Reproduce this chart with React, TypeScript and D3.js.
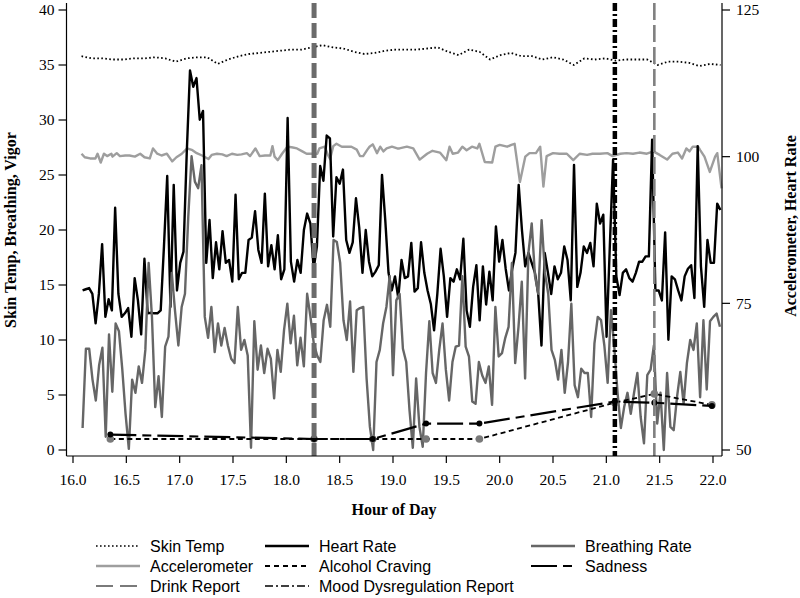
import React from 'react';
import * as d3 from 'd3';

// ---------- data ----------
const hourTicks = [16, 16.5, 17, 17.5, 18, 18.5, 19, 19.5, 20, 20.5, 21, 21.5, 22];
const leftTicks = [0, 5, 10, 15, 20, 25, 30, 35, 40];
const rightTicks = [50, 75, 100, 125];

// sensor streams: evenly sampled between their first and last hour
const heartStart = 16.09;
const heartEnd = 22.07;
const heartRate = [
  77.2, 77.4, 77.6, 76.6, 71.6, 76.6, 85.1, 72.7, 75.7, 73.8, 91.3, 76.6, 72.7, 73.3, 74.2, 69.3, 79.3, 75.5, 69.7, 82.6,
  73.3, 73.4, 73.3, 73.3, 73.8, 84.7, 96.7, 74.4, 95.2, 77.2, 81.9, 83.8, 100.6, 114.7, 111.9, 113.4, 106.3, 107.8, 81.9, 89.2,
  79.3, 85.4, 80.8, 87.3, 81.9, 82.4, 78.7,
  93.5, 79.1, 80.2, 80.2, 85.8, 86.2, 90.7, 84.1, 81.9, 93.7, 81.3, 84.9, 80.8, 86.6, 79.1, 80.8, 106.6, 82.1, 78.7, 82.4,
  80.2, 87.5, 90.3, 88.6, 80.9, 84.7, 98.4, 95.9, 103.6, 103.1, 86.4, 96.5, 95.4, 97.8, 85.8, 83.6, 85.4, 92.9, 87.9, 80.2,
  87.5, 82.1, 79.6, 80.4, 81.5, 96.9, 89.2, 80.2, 77.2, 79.6, 75.9,
  82.4, 79.3, 79.6, 85.3, 77.0, 77.6, 85.4, 80.2, 77.2, 74.9, 70.4, 76.6, 84.3, 79.6, 72.7, 79.3, 78.7, 80.8, 79.1, 86.0,
  73.8, 71.0, 77.8, 81.5, 72.1, 81.3, 74.8, 80.4, 75.5, 88.1, 82.1, 85.8, 80.9, 77.2, 80.8, 83.6, 95.2, 87.5, 81.3, 83.6,
  81.9, 80.2, 76.6, 67.8, 83.6, 80.2, 76.6, 81.3, 79.1, 80.2, 84.7,
  82.4, 75.5, 98.6, 77.8, 80.2, 84.7, 83.6, 85.3, 81.3, 92.0, 88.6, 90.1, 69.3, 84.7, 99.5, 79.6, 76.4, 80.2, 80.8, 79.3,
  78.7, 80.2, 82.1, 82.1, 83.0, 83.0, 102.9, 77.2, 77.2, 75.5, 87.1, 68.8, 79.6, 79.1, 77.2, 75.5, 79.6, 80.9, 81.5, 75.9,
  101.8, 81.3, 74.4, 85.8, 81.9, 81.9, 92.0, 90.9,
];

const breathStart = 16.09;
const breathEnd = 22.065;
const breathingRate = [
  2.0, 9.2, 9.2, 6.4, 4.5, 7.7, 9.3, 1.2, 10.5, 5.3, 11.5, 10.8, 7.4, 3.3, 0.1, 6.4, 5.2, 7.6, 6.1, 9.1,
  17.0, 12.1, 3.9, 6.7, 3.0, 9.4, 10.3, 16.1, 12.6, 9.5, 13.0, 14.2, 21.2, 26.7, 24.4, 23.8, 25.9, 12.1, 10.2, 13.0,
  8.9, 11.5, 9.5, 11.1, 9.5, 8.3, 7.9,
  13.0, 9.1, 10.0, 8.6, 0.2, 11.7, 7.3, 9.5, 7.0, 9.2, 8.3, 4.7, 9.1, 7.1, 10.9, 13.3, 9.7, 12.2, 7.7, 10.2,
  7.6, 14.2, 12.1, 9.7, 8.6, 8.0, 11.8, 13.2, 11.2, 19.1, 18.9, 17.0, 11.8, 10.0, 13.5, 7.1, 12.7, 12.9, 13.0, 6.5,
  2.1, 0, 8.0, 9.1, 11.5, 13.0, 15.8, 6.8, 13.6, 14.2,
  9.2, 8.0, 3.6, 0.2, 6.5, 2.1, 0.3, 7.0, 11.7, 7.0, 6.1, 9.1, 11.5, 7.3, 4.5, 8.0, 9.4, 9.5, 15.8, 9.4,
  8.5, 4.4, 4.2, 8.0, 6.8, 6.1, 7.6, 4.1, 13.0, 8.5, 8.8, 10.2, 11.2, 17.0, 7.9, 11.2, 15.3, 6.5, 17.9, 20.6,
  15.8, 14.2, 20.9, 16.1, 14.2, 9.1, 8.2, 6.4, 9.1,
  5.2, 8.0, 13.3, 5.9, 4.8, 7.4, 7.0, 7.0, 3.0, 9.7, 12.1, 11.8, 9.5, 6.1, 12.7, 9.4, 5.2, 2.0, 3.9, 5.2,
  3.3, 5.2, 7.0, 3.0, 0.6, 6.8, 7.3, 9.5, 2.4, 5.2, 0, 7.0, 2.1, 1.8, 4.8, 7.1, 4.2, 7.9, 10.0, 9.1,
  11.5, 4.8, 11.8, 5.5, 11.7, 12.1, 12.4, 11.2,
];

const skinStart = 16.08;
const skinEnd = 22.07;
const skinTemp = [
  35.8, 35.6, 35.6, 35.5, 35.5, 35.6, 35.6, 35.7, 35.6, 35.3, 35.6, 35.7, 35.7, 35.1, 35.5, 35.8, 36.0, 36.1, 36.2, 36.3,
  36.4, 36.4, 36.6, 36.8, 36.6, 36.5, 36.2, 36.0, 36.1, 36.3, 36.4, 36.4, 36.4, 36.5, 36.6, 36.2, 35.9, 36.4, 36.2, 35.5,
  35.9, 36.1, 35.8, 35.8, 35.5, 35.7, 35.5, 35.0, 35.6, 35.5, 35.6, 35.4, 35.5, 35.5, 35.5, 35.0, 35.3, 35.3, 35.2, 34.9,
  35.1, 35.0,
];

// accelerometer: [hour, value]
const accelerometer: [number, number][] = [
  [16.08, 100.5], [16.11, 99.9], [16.16, 99.7], [16.21, 99.7], [16.23, 100.5], [16.26, 99.0], [16.29, 100.5], [16.32, 100.1],
  [16.36, 100.5], [16.37, 100.0], [16.41, 100.6], [16.44, 100.1], [16.49, 100.2], [16.53, 100.2], [16.58, 100.0], [16.63, 100.5],
  [16.67, 99.9], [16.72, 99.7], [16.75, 101.4], [16.79, 100.5], [16.83, 100.2], [16.88, 100.5], [16.93, 99.2], [16.97, 99.9],
  [17.02, 100.5], [17.07, 101.4], [17.12, 101.1], [17.16, 100.6], [17.21, 100.2], [17.27, 99.6], [17.3, 100.3], [17.35, 100.5],
  [17.4, 100.4], [17.44, 100.1], [17.49, 100.5], [17.54, 100.3], [17.58, 100.4], [17.63, 100.6], [17.66, 100.1], [17.71, 101.4],
  [17.75, 100.1], [17.8, 100.2], [17.85, 100.2], [17.87, 101.8], [17.89, 100.0], [17.92, 99.4], [17.96, 100.5], [18.01, 101.7],
  [18.05, 101.6], [18.1, 101.4], [18.15, 100.9], [18.19, 100.5], [18.24, 100.5], [18.29, 100.5], [18.31, 101.4], [18.36, 101.7],
  [18.39, 100.3], [18.41, 99.6], [18.44, 101.8], [18.47, 102.2], [18.52, 101.7], [18.57, 101.7], [18.61, 101.7], [18.66, 101.2],
  [18.69, 100.1], [18.72, 100.1], [18.76, 101.2], [18.78, 101.7], [18.81, 102.1], [18.85, 100.6], [18.88, 101.7], [18.91, 100.9],
  [18.94, 101.4], [18.99, 101.7], [19.04, 101.4], [19.06, 101.4], [19.13, 101.7], [19.19, 101.4], [19.25, 99.5], [19.32, 100.5],
  [19.37, 101.0], [19.44, 100.7], [19.5, 99.4], [19.53, 101.7], [19.56, 100.5], [19.61, 100.7], [19.65, 101.7], [19.69, 101.1],
  [19.74, 101.7], [19.79, 101.4], [19.81, 102.2], [19.86, 99.1], [19.93, 99.0], [19.96, 101.7], [20.0, 102.0], [20.07, 101.7],
  [20.11, 102.0], [20.14, 102.2], [20.19, 95.7], [20.24, 100.0], [20.28, 100.6], [20.34, 100.6], [20.38, 101.7], [20.41, 94.9],
  [20.44, 100.1], [20.5, 100.6], [20.56, 100.5], [20.63, 100.5], [20.69, 99.4], [20.75, 100.5], [20.82, 100.3], [20.87, 100.5],
  [20.94, 100.5], [21.01, 100.6], [21.06, 100.1], [21.13, 100.5], [21.19, 100.6], [21.25, 100.5], [21.31, 100.7], [21.38, 100.5],
  [21.44, 100.9], [21.5, 100.3], [21.57, 99.5], [21.62, 100.5], [21.67, 100.7], [21.71, 99.7], [21.75, 101.4], [21.78, 100.9],
  [21.81, 101.7], [21.86, 101.7], [21.88, 101.1], [21.92, 100.0], [21.97, 97.4], [22.02, 100.0], [22.04, 100.6], [22.08, 94.6],
];

// EMA reports
const emaHours = [16.35, 18.26, 18.81, 19.31, 19.81, 21.08, 21.45, 21.99];
const alcoholCraving = [1.0, 1.0, 1.0, 1.0, 1.0, 4.3, 5.1, 4.1];
const sadness = [1.4, 1.0, 1.0, 2.4, 2.4, 4.4, 4.3, 4.0];
const drinkReports = [18.26, 21.45];
const moodReports = [21.08];

const legendLabels = [
  'Skin Temp', 'Heart Rate', 'Breathing Rate',
  'Accelerometer', 'Alcohol Craving', 'Sadness',
  'Drink Report', 'Mood Dysregulation Report',
];

// ---------- component ----------
const SERIF = "'Liberation Serif', 'Times New Roman', serif";
const SANS = "'Liberation Sans', Arial, sans-serif";

type Style = { stroke: string; width: number; dash?: string };

export default function App() {
  const W = 800;
  const H = 598;
  const leftX = 66.5;
  const rightX = 722;
  const bottomY = 456;
  const topY = 3;

  const x = d3.scaleLinear().domain([16, 22]).range([73, 713]);
  const yL = d3.scaleLinear().domain([0, 40]).range([450, 10]);
  const yR = d3.scaleLinear().domain([50, 125]).range([450, 10]);

  const spread = (n: number, a: number, b: number) => d3.range(n).map((i) => a + ((b - a) * i) / (n - 1));
  const line = d3.line<[number, number]>().x((d) => d[0]).y((d) => d[1]);

  const hrHours = spread(heartRate.length, heartStart, heartEnd);
  const brHours = spread(breathingRate.length, breathStart, breathEnd);
  const stHours = spread(skinTemp.length, skinStart, skinEnd);

  const hrPath = line(heartRate.map((v, i) => [x(hrHours[i]), yR(v)]));
  const brPath = line(breathingRate.map((v, i) => [x(brHours[i]), yL(v)]));
  const stPath = line(skinTemp.map((v, i) => [x(stHours[i]), yL(v)]));
  const acPath = line(accelerometer.map((d) => [x(d[0]), yR(d[1])]));
  const crPath = line(alcoholCraving.map((v, i) => [x(emaHours[i]), yL(v)]));
  const sdPath = line(sadness.map((v, i) => [x(emaHours[i]), yL(v)]));

  const fmt = d3.format('.1f');

  const styles: Record<string, Style> = {
    'Skin Temp': { stroke: '#000', width: 1.6, dash: '1.6,2.4' },
    'Heart Rate': { stroke: '#000', width: 2.4 },
    'Breathing Rate': { stroke: '#666', width: 2.4 },
    Accelerometer: { stroke: '#9e9e9e', width: 2.4 },
    'Alcohol Craving': { stroke: '#000', width: 1.8, dash: '5,4' },
    Sadness: { stroke: '#000', width: 2.2, dash: '26,6,9,6' },
    'Drink Report': { stroke: '#7a7a7a', width: 2.2, dash: '17,7' },
    'Mood Dysregulation Report': { stroke: '#000', width: 1.4, dash: '8,3,2,3' },
  };

  const colX = [96, 265, 531];
  const rowY = [546, 566, 586];
  const sampleLen = 44;

  return (
    <svg
      width={W}
      height={H}
      style={{ position: 'absolute', left: 0, top: 0, background: '#fff' }}
      xmlns="http://www.w3.org/2000/svg"
    >
      <rect x={0} y={0} width={W} height={H} fill="#fff" />

      {/* series */}
      <path d={stPath ?? ''} fill="none" stroke="#000" strokeWidth={1.8} strokeDasharray="1.6,2.4" />
      <path d={acPath ?? ''} fill="none" stroke="#9e9e9e" strokeWidth={2.4} strokeLinejoin="round" />
      <path d={hrPath ?? ''} fill="none" stroke="#000" strokeWidth={2.4} strokeLinejoin="round" />
      <path d={brPath ?? ''} fill="none" stroke="#666" strokeWidth={2.4} strokeLinejoin="round" />

      <path d={crPath ?? ''} fill="none" stroke="#000" strokeWidth={1.8} strokeDasharray="5,3.5" />
      {alcoholCraving.map((v, i) => (
        <circle key={'c' + i} cx={x(emaHours[i])} cy={yL(v)} r={3.8} fill="#7a7a7a" />
      ))}
      <path d={sdPath ?? ''} fill="none" stroke="#000" strokeWidth={2.2} strokeDasharray="26,6,9,6" />
      {sadness.map((v, i) => (
        <circle key={'s' + i} cx={x(emaHours[i])} cy={yL(v)} r={3} fill="#000" />
      ))}

      {/* event lines */}
      {drinkReports.map((h, i) => (
        <line
          key={'d' + i}
          x1={x(h)}
          x2={x(h)}
          y1={topY}
          y2={bottomY}
          stroke={i === 0 ? '#6b6b6b' : '#808080'}
          strokeWidth={i === 0 ? 5 : 2.6}
          strokeDasharray={i === 0 ? '15,5' : '17,5'}
        />
      ))}
      {moodReports.map((h, i) => (
        <line
          key={'m' + i}
          x1={x(h)}
          x2={x(h)}
          y1={topY}
          y2={bottomY}
          stroke="#000"
          strokeWidth={4.5}
          strokeDasharray="8,3,2,3"
        />
      ))}

      {/* axes */}
      <line x1={leftX} x2={leftX} y1={topY} y2={bottomY} stroke="#000" strokeWidth={1.2} />
      <line x1={rightX} x2={rightX} y1={topY} y2={bottomY} stroke="#000" strokeWidth={1.2} />
      <line x1={leftX} x2={rightX} y1={bottomY} y2={bottomY} stroke="#000" strokeWidth={1.2} />

      {leftTicks.map((t) => (
        <g key={'l' + t}>
          <line x1={leftX - 8} x2={leftX} y1={yL(t)} y2={yL(t)} stroke="#000" strokeWidth={1.2} />
          <text x={leftX - 12} y={yL(t)} dy="0.35em" textAnchor="end" fontFamily={SERIF} fontSize={15.5} fill="#000">
            {t}
          </text>
        </g>
      ))}
      {rightTicks.map((t) => (
        <g key={'r' + t}>
          <line x1={rightX} x2={rightX + 8} y1={yR(t)} y2={yR(t)} stroke="#000" strokeWidth={1.2} />
          <text x={rightX + 14} y={yR(t)} dy="0.35em" textAnchor="start" fontFamily={SERIF} fontSize={15.5} fill="#000">
            {t}
          </text>
        </g>
      ))}
      {hourTicks.map((t) => (
        <g key={'x' + t}>
          <line x1={x(t)} x2={x(t)} y1={bottomY} y2={bottomY + 7} stroke="#000" strokeWidth={1.2} />
          <text x={x(t)} y={480} dy="0.35em" textAnchor="middle" fontFamily={SERIF} fontSize={15.5} fill="#000">
            {fmt(t)}
          </text>
        </g>
      ))}

      {/* axis titles */}
      <text
        transform="translate(16,230) rotate(-90)"
        textAnchor="middle"
        fontFamily={SERIF}
        fontWeight="bold"
        fontSize={16}
        fill="#000"
      >
        Skin Temp, Breathing, Vigor
      </text>
      <text
        transform="translate(796,226) rotate(-90)"
        textAnchor="middle"
        fontFamily={SERIF}
        fontWeight="bold"
        fontSize={16}
        fill="#000"
      >
        Accelerometer, Heart Rate
      </text>
      <text x={394} y={515} textAnchor="middle" fontFamily={SERIF} fontWeight="bold" fontSize={16} fill="#000">
        Hour of Day
      </text>

      {/* legend */}
      {legendLabels.map((lab, i) => {
        const c = i % 3;
        const r = Math.floor(i / 3);
        const s = styles[lab];
        const lx = colX[c];
        const ly = rowY[r];
        return (
          <g key={'lg' + i}>
            <line
              x1={lx}
              x2={lx + sampleLen}
              y1={ly}
              y2={ly}
              stroke={s.stroke}
              strokeWidth={s.width}
              strokeDasharray={s.dash}
            />
            <text x={lx + sampleLen + 10} y={ly} dy="0.35em" fontFamily={SANS} fontSize={16} fill="#000">
              {lab}
            </text>
          </g>
        );
      })}
    </svg>
  );
}
